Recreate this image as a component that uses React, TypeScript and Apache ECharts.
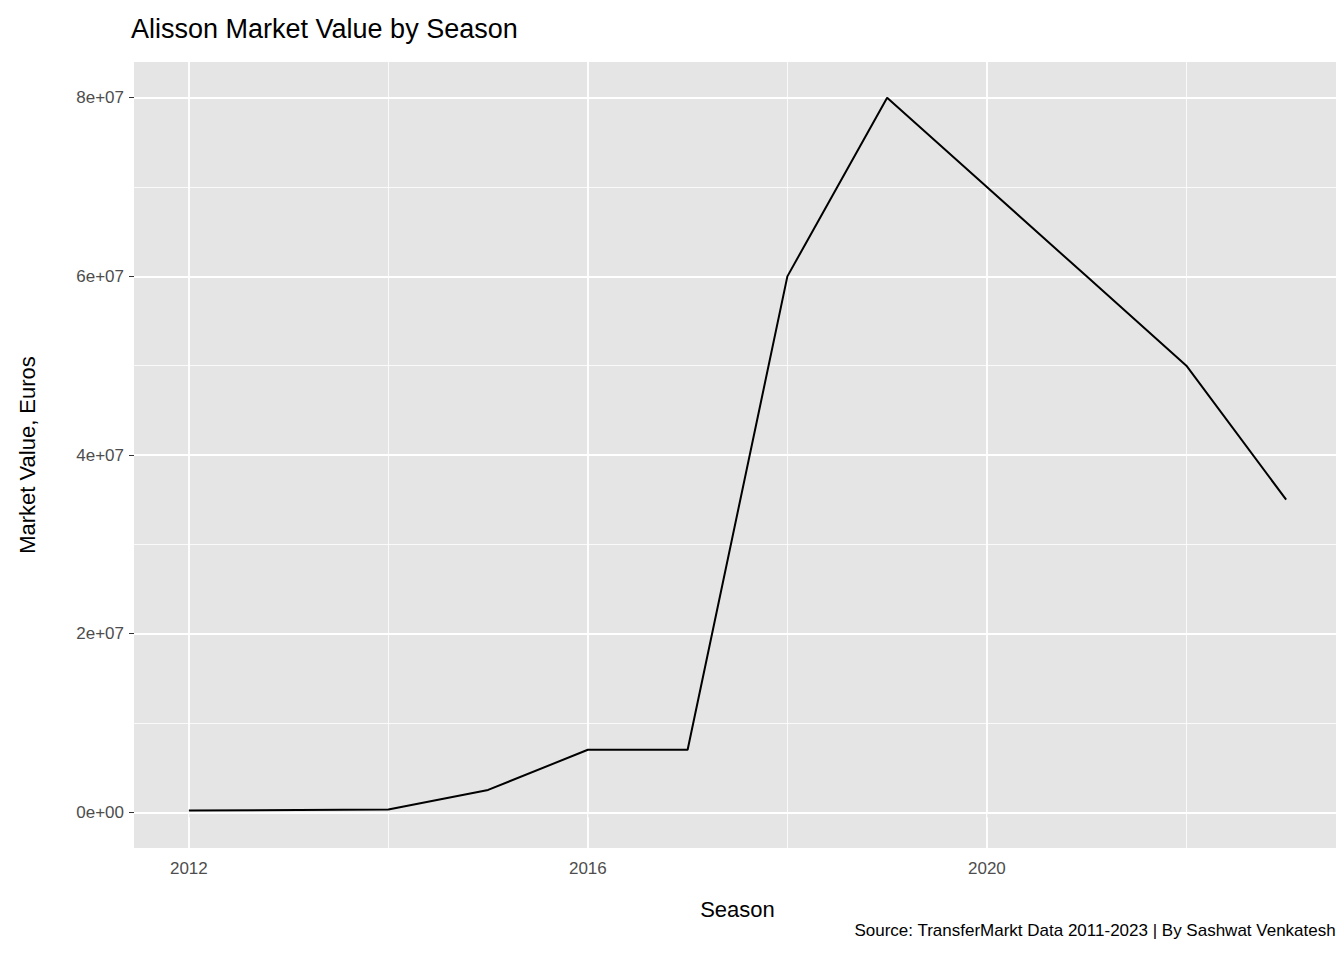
import { useEffect, useRef } from 'react';
import * as echarts from 'echarts';

const seasons = [2012, 2014, 2015, 2016, 2017, 2018, 2019, 2020, 2021, 2022, 2023];
const values = [0.2e6, 0.3e6, 2.5e6, 7e6, 7e6, 60e6, 80e6, 70e6, 60e6, 50e6, 35e6];
const xMajor = [2012, 2016, 2020];
const xMinor = [2014, 2018, 2022];
const yMajor = [0, 2e7, 4e7, 6e7, 8e7];
const yMinor = [1e7, 3e7, 5e7, 7e7];

const fmt = (v: number) => {
    if (v === 0) return '0e+00';
    const e = Math.floor(Math.log10(v));
    return `${Math.round(v / Math.pow(10, e))}e+${String(e).padStart(2, '0')}`;
};

const App = () => {
    const ref = useRef<HTMLDivElement | null>(null);
    useEffect(() => {
        if (!ref.current) return;
        const chart = echarts.init(ref.current, null, { renderer: 'svg' });
        const gridLines: any[] = [
            ...xMinor.map(v => ({ xAxis: v, lineStyle: { color: '#fff', width: 0.8, type: 'solid' } })),
            ...xMajor.map(v => ({ xAxis: v, lineStyle: { color: '#fff', width: 1.8, type: 'solid' } })),
            ...yMinor.map(v => ({ yAxis: v, lineStyle: { color: '#fff', width: 0.8, type: 'solid' } })),
            ...yMajor.map(v => ({ yAxis: v, lineStyle: { color: '#fff', width: 1.8, type: 'solid' } })),
        ];
        chart.setOption({
            animation: false,
            textStyle: { fontFamily: 'Liberation Sans, Arial, sans-serif' },
            title: {
                text: 'Alisson Market Value by Season', left: 118, top: 2,
                textStyle: { fontSize: 27, fontWeight: 'normal', color: '#000' },
            },
            grid: { left: 120, right: 3, top: 54, bottom: 112, show: true, backgroundColor: '#e5e5e5', borderWidth: 0 },
            xAxis: {
                type: 'value', min: 2011.45, max: 2023.55,
                name: 'Season', nameLocation: 'middle', nameGap: 50,
                nameTextStyle: { fontSize: 22, color: '#000' },
                axisLine: { show: false },
                splitLine: { show: false },
                axisTick: { show: true, customValues: xMajor, length: 5, lineStyle: { color: '#333' } },
                axisLabel: { customValues: xMajor, fontSize: 17, color: '#4d4d4d', margin: 12, formatter: (v: number) => String(v) },
            },
            yAxis: {
                type: 'value', min: -4e6, max: 84e6,
                name: 'Market Value, Euros', nameLocation: 'middle', nameGap: 96, nameRotate: 90,
                nameTextStyle: { fontSize: 22, color: '#000' },
                axisLine: { show: false },
                splitLine: { show: false },
                axisTick: { show: true, customValues: yMajor, length: 5, lineStyle: { color: '#333' } },
                axisLabel: { customValues: yMajor, fontSize: 17, color: '#4d4d4d', margin: 10, formatter: fmt },
            },
            graphic: [{
                type: 'text', right: 8, top: 914,
                style: { text: 'Source: TransferMarkt Data 2011-2023 | By Sashwat Venkatesh', fontSize: 17, fill: '#000', fontFamily: 'Liberation Sans, Arial, sans-serif' },
            }],
            series: [{
                type: 'line',
                data: seasons.map((s, i) => [s, values[i]]),
                showSymbol: false,
                lineStyle: { color: '#000', width: 2 },
                z: 5,
                markLine: { silent: true, symbol: 'none', label: { show: false }, data: gridLines, z: 1 },
            }],
        });
        return () => chart.dispose();
    }, []);
    return <div ref={ref} style={{ width: 1336, height: 952 }} />;
};

export default App;
